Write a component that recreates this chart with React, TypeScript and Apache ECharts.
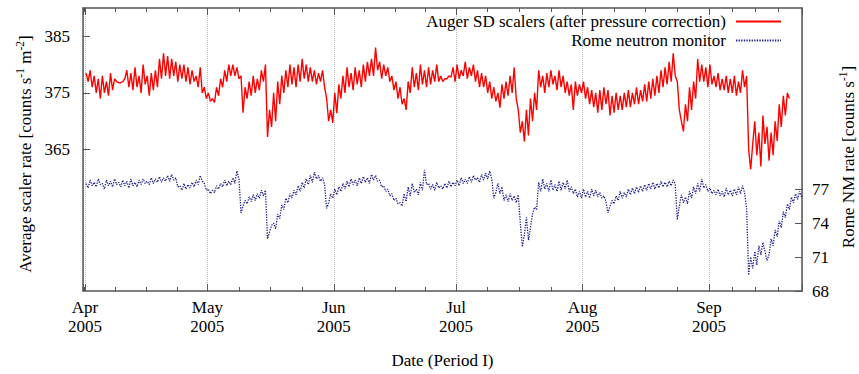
import React, { useEffect, useRef } from "react";
import * as echarts from "echarts";

// Half-daily samples starting 1 Apr 2005 06:00 UTC.
const START = Date.UTC(2005, 3, 1, 6);
const STEP = 12 * 3600 * 1000;
const DAY = 24 * 3600 * 1000;
const X_MIN = Date.UTC(2005, 2, 31, 12);
const X_MAX = Date.UTC(2005, 8, 23, 20);

const MONTH_NAMES = ["Jan", "Feb", "Mar", "Apr", "May", "Jun", "Jul", "Aug", "Sep", "Oct", "Nov", "Dec"];

const AUGER_NAME = "Auger SD scalers (after pressure correction)";
const ROME_NAME = "Rome neutron monitor";

// Auger SD scaler rate [counts s^-1 m^-2]
const augerApr = [
  378.5, 377, 379, 376, 378, 375, 377.5, 374, 378, 375, 377, 374.5, 378.5, 375.5, 377.5, 377,
  376.8, 376.8, 377, 377.5, 379, 376, 378.5, 375.5, 379.5, 376, 378, 375, 380, 376.5,
  378, 374.5, 378.5, 375.5, 379, 376, 381, 377.5, 382, 378, 381.5, 377.5, 381, 378,
  380.5, 377, 380, 377.5, 380, 377, 379.5, 376.5, 379, 377, 378, 376, 379.5, 375, 376, 374,
];
const augerMay = [
  375, 373.5, 374, 373.3, 376, 374.5, 377.5, 376, 379, 377, 380, 378, 380, 378, 379.5, 377.5,
  378, 371.5, 376, 374, 377, 374.5, 378, 375, 377.5, 375.5, 379, 377, 380, 367.2, 372, 369,
  375, 370, 377, 373, 378, 375, 379, 376, 380, 376.5, 379.5, 376, 380, 377, 381, 377.5,
  380, 377, 379.5, 377, 379, 376.5, 378.5, 377, 379, 376, 374, 370, 372, 369.7,
];
const augerJun = [
  375, 371.4, 376.5, 374, 378, 375, 379.5, 376, 378.5, 375.5, 379.5, 376.5, 379, 376, 380, 377,
  380.5, 378, 381, 378, 383, 379, 380.5, 377.5, 380, 378, 379.5, 377, 378, 375.5, 377, 374,
  376, 373, 374, 372, 377, 375, 379.5, 376, 378.5, 375.5, 380, 376.5, 379, 376, 379.5, 376.5,
  379, 377, 380, 377, 378, 377, 377.5, 377.5, 378, 377.8, 379.5, 377,
];
const augerJul = [
  380, 377.5, 379, 378, 380.5, 377.5, 379.5, 378, 380, 377, 379, 376, 378.5, 376, 378, 375,
  377, 374, 376, 373.5, 375, 372.4, 376.5, 374, 377, 374.5, 378, 375, 379.5, 374, 372, 368,
  370, 366.4, 372, 367.5, 374, 370, 375, 372, 379, 376, 378, 375, 378.5, 376, 379, 376.5,
  378, 375.5, 379, 376, 378, 375, 377, 374.5, 376.5, 372, 377, 374.5, 376.5, 375,
];
const augerAug = [
  377, 374, 376, 373, 375.5, 372.5, 375, 371.5, 375.5, 372, 376, 373, 375.5, 371, 374.5, 371.5,
  375, 372, 374.5, 372, 375, 372.5, 375.5, 372.5, 375, 373, 376, 373, 375.5, 373.5, 376.5, 373.5,
  377, 374, 377.5, 374.5, 378, 375, 379, 376, 379.5, 376.5, 380.5, 377, 382, 378, 377, 372,
  370, 368.2, 373, 370, 376, 372, 377, 374, 381, 377, 380, 377, 379.5, 376,
];
const augerSep = [
  380, 376.5, 378, 376, 378.5, 375.5, 377.5, 375.5, 378, 375, 377.5, 375, 378, 374.5, 377, 375,
  379, 376, 378, 365, 361.5, 366, 370, 364, 368, 362, 371, 366, 369, 363, 368, 364,
  370, 366.5, 373, 369, 374.5, 371, 375, 374,
];

// Rome neutron monitor rate [counts s^-1]
const romeApr = [
  77.5, 77.1, 77.8, 77.3, 77.6, 77.2, 77.9, 77.4, 77.5, 77.0, 77.8, 77.3, 77.7, 77.2, 77.9, 77.4,
  77.6, 77.2, 77.8, 77.3, 77.7, 77.1, 77.9, 77.3, 77.6, 77.2, 77.8, 77.4, 77.9, 77.5, 77.7, 77.4,
  78.0, 77.5, 77.9, 77.6, 78.1, 77.6, 78.0, 77.7, 78.2, 77.7, 78.3, 77.8, 78.0, 77.2, 77.3, 76.9,
  77.5, 77.0, 77.4, 77.1, 77.6, 77.2, 77.8, 77.4, 78.2, 77.7, 77.5, 76.9,
];
const romeMay = [
  77.0, 76.6, 76.9, 76.7, 77.3, 77.0, 77.5, 77.2, 77.8, 77.3, 77.7, 77.4, 78.0, 77.5, 78.6, 77.9,
  74.9, 75.5, 76.0, 75.7, 76.3, 75.9, 76.5, 76.0, 76.6, 76.2, 76.9, 76.4, 76.9, 72.6, 73.2, 73.8,
  74.0, 73.5, 74.8, 74.4, 75.6, 75.2, 76.2, 75.8, 76.6, 76.2, 76.9, 76.5, 77.3, 76.8, 77.6, 77.1,
  77.9, 77.4, 78.2, 77.6, 78.5, 77.9, 78.2, 77.7, 78.0, 77.4, 75.3, 75.8, 76.6, 76.2,
];
const romeJun = [
  77.0, 76.5, 77.2, 76.8, 77.5, 77.0, 77.7, 77.2, 77.9, 77.4, 77.8, 77.3, 78.0, 77.5, 78.1, 77.6,
  78.0, 77.5, 78.3, 77.8, 78.2, 77.7, 77.8, 77.2, 77.3, 76.8, 77.0, 76.4, 76.6, 76.0, 76.2, 75.7,
  75.8, 75.5, 76.6, 75.9, 77.2, 76.4, 77.5, 76.7, 77.0, 76.5, 77.6, 76.9, 78.7, 77.4, 77.5, 77.0,
  77.4, 76.9, 77.6, 77.1, 77.3, 77.0, 77.5, 77.1, 77.7, 77.2, 77.6, 77.3,
];
const romeJul = [
  77.8, 77.3, 78.0, 77.5, 77.9, 77.5, 78.1, 77.6, 78.2, 77.8, 78.0, 77.6, 78.3, 77.8, 78.4, 77.9,
  78.6, 77.9, 76.2, 76.7, 77.5, 76.6, 77.2, 76.0, 76.5, 75.9, 76.6, 76.0, 76.4, 75.8, 76.5, 74.0,
  71.9, 73.0, 74.5, 72.5, 73.6, 74.8, 75.4, 75.2, 77.6, 76.8, 77.9, 77.0, 77.5, 76.8, 77.8, 76.9,
  77.4, 76.8, 77.7, 76.9, 77.6, 77.0, 77.8, 76.8, 77.2, 76.6, 77.0, 76.3, 76.8, 76.2,
];
const romeAug = [
  77.0, 76.3, 76.8, 76.2, 77.0, 76.4, 76.9, 76.3, 76.7, 76.2, 76.4, 75.9, 74.9, 75.5, 76.0, 75.7,
  76.4, 76.0, 76.8, 76.2, 76.7, 76.3, 77.0, 76.5, 77.1, 76.6, 77.2, 76.7, 77.3, 76.8, 77.4, 76.9,
  77.5, 77.0, 77.6, 77.0, 77.5, 77.1, 77.7, 77.2, 77.6, 77.2, 77.7, 77.3, 77.8, 77.4, 74.3, 75.5,
  76.5, 75.8, 76.3, 75.7, 76.8, 76.2, 77.2, 76.6, 77.5, 76.8, 77.9, 77.1, 77.4, 76.8,
];
const romeSep = [
  77.1, 76.6, 76.9, 76.5, 77.0, 76.4, 76.8, 76.3, 77.1, 76.5, 76.9, 76.4, 77.0, 76.5, 77.2, 76.6,
  77.3, 76.7, 75.3, 69.4, 71.0, 70.0, 71.5, 70.3, 72.0, 71.2, 72.3, 71.5, 70.7, 71.2, 72.6, 72.0,
  73.4, 72.8, 74.2, 73.6, 75.0, 74.5, 75.7, 75.2, 76.3, 75.8, 76.6, 76.1, 76.8, 76.3,
];

const SCALER_TICKS = [365, 375, 385];
const NM_TICKS = [68, 71, 74, 77];

const FONT = "Liberation Serif";
const FONT_SIZE = 17;
const FRAME = "#555555";

function toPoints(values: number[]): [number, number][] {
  return values.map((v, i) => [START + i * STEP, v]);
}

function monthLabel(value: number): string {
  const d = new Date(value);
  return `${MONTH_NAMES[d.getUTCMonth()]}\n${d.getUTCFullYear()}`;
}

export default function App() {
  const ref = useRef<HTMLDivElement>(null);

  useEffect(() => {
    if (!ref.current) return;
    const chart = echarts.init(ref.current, undefined, { renderer: "svg" });

    const auger = toPoints([...augerApr, ...augerMay, ...augerJun, ...augerJul, ...augerAug, ...augerSep]);
    const rome = toPoints([...romeApr, ...romeMay, ...romeJun, ...romeJul, ...romeAug, ...romeSep]);

    const tickStyle = { color: FRAME, width: 1 };
    const xCommon = {
      type: "time" as const,
      min: X_MIN,
      max: X_MAX,
      minInterval: 28 * DAY,
      maxInterval: 31 * DAY,
      axisLine: { show: true, onZero: false, lineStyle: { color: FRAME, width: 1.5 } },
      axisTick: { show: true, inside: true, length: 7, lineStyle: tickStyle },
      minorTick: { show: true, splitNumber: 4, length: 4, lineStyle: tickStyle },
    };

    const richTitle = {
      a: { fontFamily: FONT, fontSize: FONT_SIZE, color: "#000", lineHeight: 23 },
      s: { fontFamily: FONT, fontSize: 11.5, color: "#000", lineHeight: 11.5, verticalAlign: "top" },
    };

    const legendCommon = {
      right: 77,
      padding: 0,
      align: "right" as const,
      itemWidth: 45,
      itemHeight: 14,
      selectedMode: false,
      itemStyle: { opacity: 0 },
      textStyle: { fontFamily: FONT, fontSize: FONT_SIZE, color: "#000", padding: [0, 5, 0, 0] },
    };

    chart.setOption({
      animation: false,
      useUTC: true,
      backgroundColor: "#ffffff",
      grid: { left: 83, right: 57, top: 8, bottom: 70, containLabel: false },
      legend: [
        { ...legendCommon, data: [AUGER_NAME], top: 13 },
        { ...legendCommon, data: [ROME_NAME], top: 32 },
      ],
      xAxis: [
        {
          ...xCommon,
          position: "bottom",
          axisLabel: {
            formatter: monthLabel,
            fontFamily: FONT,
            fontSize: FONT_SIZE,
            lineHeight: 19,
            color: "#000",
            margin: 7,
            hideOverlap: false,
          },
          splitLine: { show: true, lineStyle: { type: "dotted", color: "#b8b8b8", width: 1 } },
          name: "Date (Period I)",
          nameLocation: "middle",
          nameGap: 61,
          nameTextStyle: { fontFamily: FONT, fontSize: FONT_SIZE, color: "#000" },
        },
        {
          ...xCommon,
          position: "top",
          axisLabel: { show: false },
          splitLine: { show: false },
        },
      ],
      yAxis: [
        {
          type: "value",
          position: "left",
          min: 340,
          max: 390,
          axisLine: { show: true, onZero: false, lineStyle: { color: FRAME, width: 1.5 } },
          axisTick: { show: true, inside: true, length: 7, customValues: SCALER_TICKS, lineStyle: tickStyle },
          axisLabel: { customValues: SCALER_TICKS, fontFamily: FONT, fontSize: FONT_SIZE, color: "#000", margin: 13 },
          splitLine: { show: false },
        },
        {
          type: "value",
          position: "right",
          min: 68,
          max: 93,
          axisLine: { show: true, onZero: false, lineStyle: { color: FRAME, width: 1.5 } },
          axisTick: { show: true, inside: true, length: 7, customValues: NM_TICKS, lineStyle: tickStyle },
          axisLabel: { customValues: NM_TICKS, fontFamily: FONT, fontSize: FONT_SIZE, color: "#000", margin: 10 },
          splitLine: { show: false },
        },
      ],
      series: [
        {
          name: AUGER_NAME,
          type: "line",
          xAxisIndex: 0,
          yAxisIndex: 0,
          data: auger,
          showSymbol: false,
          symbol: "none",
          lineStyle: { color: "#ff0000", width: 1.4 },
          itemStyle: { color: "#ff0000" },
          z: 3,
        },
        {
          name: ROME_NAME,
          type: "line",
          xAxisIndex: 0,
          yAxisIndex: 1,
          data: rome,
          showSymbol: false,
          symbol: "none",
          lineStyle: { color: "#1c1c8a", width: 1.3, type: [1.3, 1.3] },
          itemStyle: { color: "#1c1c8a" },
          z: 2,
        },
      ],
      graphic: [
        {
          type: "text",
          x: 25,
          y: 154,
          rotation: Math.PI / 2,
          style: {
            text: "{a|Average scaler rate [counts s}{s|-1}{a| m}{s|-2}{a|]}",
            rich: richTitle,
            align: "center",
            verticalAlign: "middle",
          },
        },
        {
          type: "text",
          x: 848,
          y: 157,
          rotation: Math.PI / 2,
          style: {
            text: "{a|Rome NM rate [counts s}{s|-1}{a|]}",
            rich: richTitle,
            align: "center",
            verticalAlign: "middle",
          },
        },
      ],
    });

    return () => chart.dispose();
  }, []);

  return (
    <div
      ref={ref}
      style={{ position: "absolute", left: 0, top: 0, width: 859, height: 374, background: "#fff" }}
    />
  );
}
